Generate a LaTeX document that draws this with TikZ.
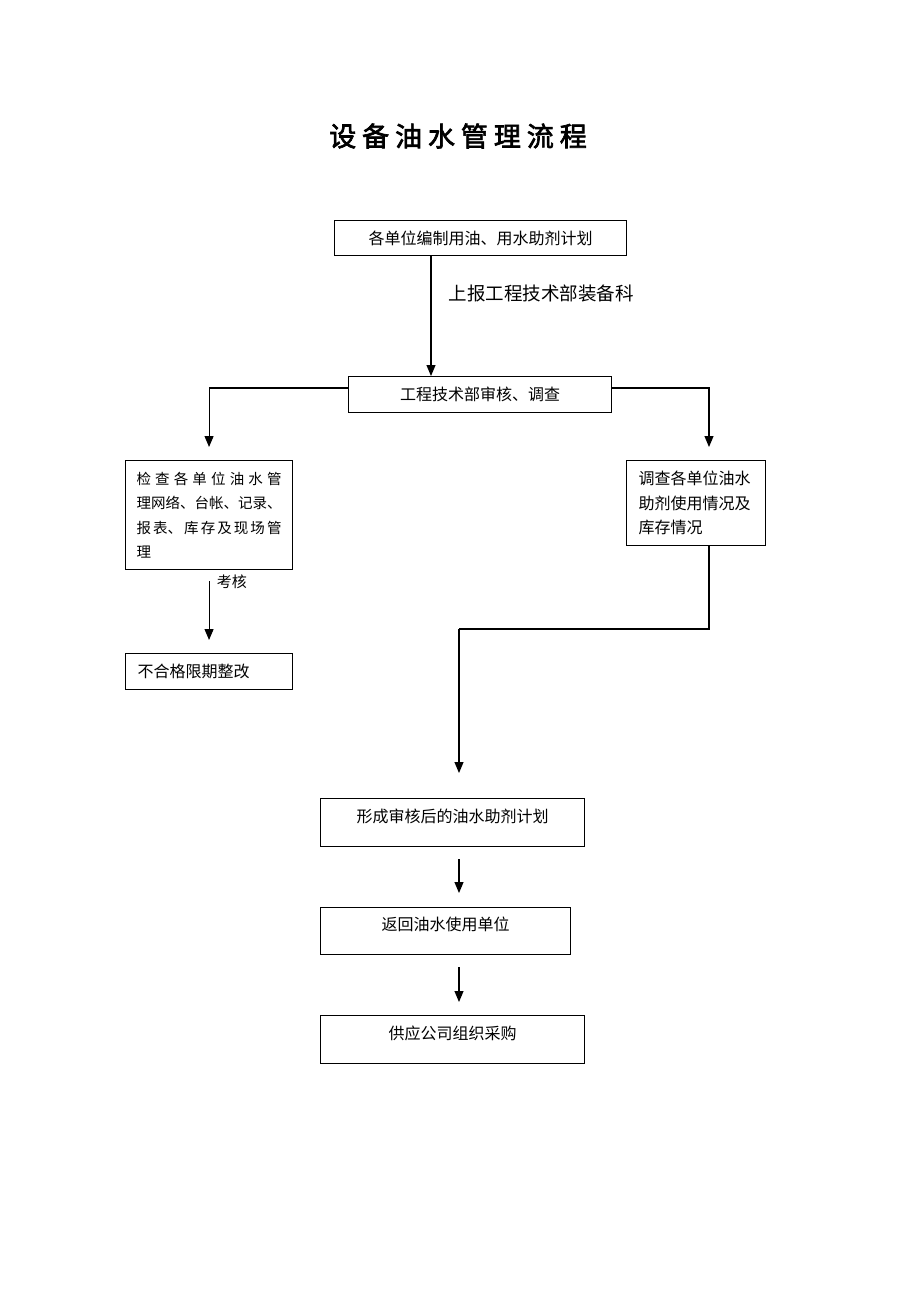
\documentclass[tikz,border=0pt]{standalone}
\usepackage{fontspec}
\setmainfont{Noto Sans CJK SC}
\newfontfamily\titlefont[FakeBold=2.5,LetterSpace=22]{Noto Sans CJK SC}
\usetikzlibrary{arrows.meta,positioning}
\XeTeXlinebreaklocale "zh"
\XeTeXlinebreakskip=0pt plus 3pt

\tikzset{
  box/.style={draw, line width=1.1pt, anchor=north west, inner sep=0pt,
    font=\fontsize{16pt}{24.5pt}\selectfont},
  lowbox/.style={box, text depth=14pt},
  parbox/.style={box, inner xsep=12pt, align=left},
  flow/.style={line width=1.1pt, -{Triangle[length=11pt,width=9pt]}},
  plain/.style={line width=1.1pt}
}

\begin{document}
\begin{tikzpicture}[x=1pt, y=-1pt]
  \useasboundingbox (0,0) rectangle (920,1302);
  % title
  \node (title) at (458,136) {\titlefont\fontsize{27pt}{30pt}\selectfont 设备油水管理流程};
  % boxes
  \node [box, minimum width=292pt, minimum height=35pt] (plan) at (334,220) {各单位编制用油、用水助剂计划};
  \node [box, minimum width=263pt, minimum height=36pt] (audit) at (348,376) {工程技术部审核、调查};
  \node [parbox, text width=145pt, inner xsep=11pt, minimum height=109pt, align=justify,
         font=\fontsize{14.5pt}{24.5pt}\selectfont] (check) at (125,460)
        {检查各单位油水管\linebreak 理网络、台帐、记录、\linebreak 报表、库存及现场管\linebreak 理};
  \node [parbox, text width=115pt, minimum height=85pt] (survey) at (626,460)
        {调查各单位油水\\助剂使用情况及\\库存情况};
  \node [parbox, text width=143pt, minimum height=36pt] (fix) at (125,653) {不合格限期整改};
  \node [lowbox, minimum width=264pt, minimum height=48pt] (result) at (320,798) {形成审核后的油水助剂计划};
  \node [lowbox, minimum width=250pt, minimum height=47pt] (back) at (320,907) {返回油水使用单位};
  \node [lowbox, minimum width=264pt, minimum height=48pt] (buy) at (320,1015) {供应公司组织采购};
  % helper coordinates
  \coordinate (upx) at (431,0);
  \coordinate (branch) at (0,388);
  \coordinate (rightx) at (709,0);
  \coordinate (midx) at (459,0);
  \coordinate (bend) at (459,629);
  % connectors
  \draw [flow] (plan.south -| upx) -- (audit.north -| upx)
    node [pos=0.31, anchor=west, xshift=14pt, font=\fontsize{18.5pt}{20pt}\selectfont] (report) {上报工程技术部装备科};
  \draw [flow, shorten >=13pt] (audit.west |- branch) -| (check.north);
  \draw [flow, shorten >=13pt] (audit.east |- branch) -| (survey.north -| rightx);
  \draw [flow, shorten <=11pt, shorten >=13pt] (check.south) -- (fix.north)
    node [at start, anchor=west, xshift=4pt, yshift=-12pt, font=\fontsize{15pt}{16pt}\selectfont] (assess) {考核};
  \draw [plain] (survey.south -| rightx) |- (bend);
  \draw [flow, shorten >=25pt] (bend) -- (result.north -| midx);
  \draw [flow, shorten <=12pt, shorten >=14pt] (result.south -| midx) -- (back.north -| midx);
  \draw [flow, shorten <=12pt, shorten >=13pt] (back.south -| midx) -- (buy.north -| midx);
\end{tikzpicture}
\end{document}
